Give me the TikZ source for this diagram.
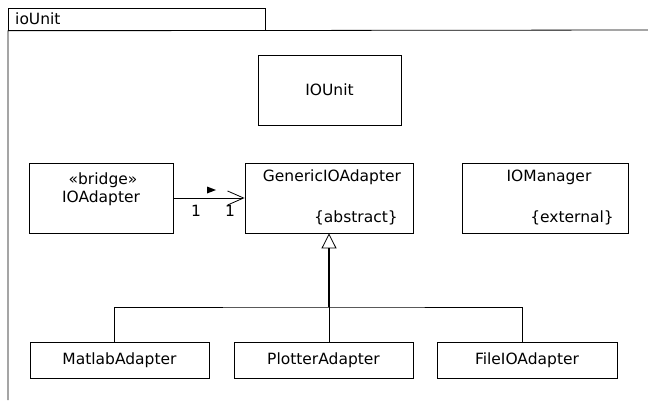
\documentclass[tikz,border=0pt]{standalone}
\usepackage{fontspec}
\setmainfont{DejaVu Sans}
\usetikzlibrary{arrows.meta,positioning}

\begin{document}
\begin{tikzpicture}[x=1pt, y=-1pt,
    every node/.style={font=\fontsize{15.5}{18}\selectfont, inner sep=0pt},
    cls/.style={draw, line width=0.8pt, minimum height=70pt},
    sub/.style={draw, line width=0.8pt, minimum height=36pt},
    link/.style={line width=0.8pt}]
\useasboundingbox (0,0) rectangle (648,400);

    % Package frame
    \node[draw, line width=0.8pt, minimum width=257pt, minimum height=22pt,
          anchor=north west] (tab) at (8,8) {};
    \node[anchor=west] (pkgname) at (15,19) {ioUnit};
    \draw[link] (8,400) -- (tab.south west) -- (648,30);

    % Classes
    \node[cls, minimum width=143pt] (iou) at (329.5,90) {IOUnit};
    \node[cls, minimum width=144pt] (ioa) at (101,198) {};
    \node[cls, minimum width=168pt] (gen) at (329,198) {};
    \node[cls, minimum width=166pt] (iom) at (545,198) {};

    \node (bridge) at (103,180) {«bridge»};
    \node (ioaname) at (101,198) {IOAdapter};
    \node (genname) at (332,177) {GenericIOAdapter};
    \node[anchor=east] (abstr) at (398,218) {\{abstract\}};
    \node (iomname) at (549,177) {IOManager};
    \node[anchor=east] (extern) at (614,218) {\{external\}};

    % Subclasses
    \node[sub, minimum width=179pt] (mat) at (119.5,360) {MatlabAdapter};
    \node[sub, minimum width=179pt] (plt) at (323.5,360) {PlotterAdapter};
    \node[sub, minimum width=180pt] (fio) at (527,360) {FileIOAdapter};

    % Association
    \draw[link, -{Straight Barb[length=16pt, width=14pt]}] (ioa) -- (gen);
    \fill (207,186.5) -- (216,190) -- (207,193.5) -- cycle;
    \node (m1) at (196,211) {1};
    \node (m2) at (230,211) {1};

    % Generalization
    \coordinate (hub) at (gen.south |- 0,307);
    \draw[line width=1.5pt, -{Triangle[open, length=15pt, width=15pt, line width=0.8pt]}]
        (hub) -- (gen.south);
    \draw[link] ([xshift=-5.5pt]mat.north) |- (hub) -| ([xshift=-5pt]fio.north);
    \draw[link] (hub) -- (plt.north -| hub);
\end{tikzpicture}
\end{document}
